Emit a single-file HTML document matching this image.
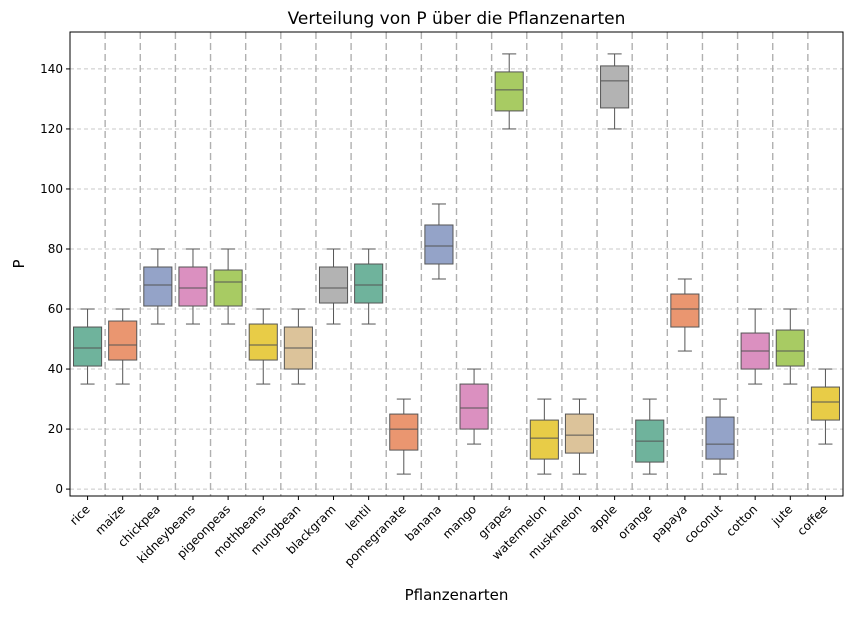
<!DOCTYPE html>
<html><head><meta charset="utf-8"><style>
body{margin:0;background:#fff;font-family:"Liberation Sans","DejaVu Sans",sans-serif}
</style></head><body>
<svg id="chart" width="854" height="614" xmlns="http://www.w3.org/2000/svg" style="font-family:'DejaVu Sans','Liberation Sans',sans-serif"></svg>
<script>
const categories=["rice","maize","chickpea","kidneybeans","pigeonpeas","mothbeans","mungbean","blackgram","lentil","pomegranate","banana","mango","grapes","watermelon","muskmelon","apple","orange","papaya","coconut","cotton","jute","coffee"];
const mins=[35,35,55,55,55,35,35,55,55,5,70,15,120,5,5,120,5,46,5,35,35,15];
const q1s=[41,43,61,61,61,43,40,62,62,13,75,20,126,10,12,127,9,54,10,40,41,23];
const medians=[47,48,68,67,69,48,47,67,68,20,81,27,133,17,18,136,16,60,15,46,46,29];
const q3s=[54,56,74,74,73,55,54,74,75,25,88,35,139,23,25,141,23,65,24,52,53,34];
const maxs=[60,60,80,80,80,60,60,80,80,30,95,40,145,30,30,145,30,70,30,60,60,40];
const yTicks=[0,20,40,60,80,100,120,140];
const palette=["#6fb39c","#ea9670","#94a3c8","#db90c0","#a8cb63","#e8cc47","#dcc39a","#b3b3b3"];
const L=70,R=843,T=32,B=496,yMin=-2.3,yMax=152.3;
const svg=document.getElementById('chart');const NS="http://www.w3.org/2000/svg";
const step=(R-L)/categories.length;
function x(i){return L+step*(i+0.5);}
function y(v){return B-(v-yMin)/(yMax-yMin)*(B-T);}
function el(t,a,txt){const e=document.createElementNS(NS,t);for(const k in a)e.setAttribute(k,a[k]);if(txt!=null)e.textContent=txt;svg.appendChild(e);return e;}
// horizontal grid
yTicks.forEach(v=>{
 const g=el('line',{x1:L,x2:R,y1:y(v),y2:y(v),stroke:"#c8c8c8","stroke-dasharray":"4,3","stroke-width":1});
 
 
 const tk=el('line',{x1:L-4,x2:L,y1:y(v),y2:y(v),stroke:"#000"});
 
 
 const t=el('text',{x:L-7,y:y(v)+4,"text-anchor":"end","font-size":12},v);
 
 
});
// vertical boundaries
for(let i=1;i<categories.length;i++){
 const g=el('line',{x1:L+step*i,x2:L+step*i,y1:T,y2:B,stroke:"#b0b0b0","stroke-dasharray":"7,4","stroke-width":1.4});
 
 
}
const bw=step*0.8;
categories.forEach((c,i)=>{
 const cx=x(i),col=palette[i%palette.length];
 const w=el('line',{x1:cx,x2:cx,y1:y(maxs[i]),y2:y(q3s[i]),stroke:"#555"});
 
 
 const w2=el('line',{x1:cx,x2:cx,y1:y(q1s[i]),y2:y(mins[i]),stroke:"#555"});
 
 
 [maxs[i],mins[i]].forEach(v=>{const cap=el('line',{x1:cx-bw/4,x2:cx+bw/4,y1:y(v),y2:y(v),stroke:"#555"});
 
 });
 const r=el('rect',{x:cx-bw/2,y:y(q3s[i]),width:bw,height:y(q1s[i])-y(q3s[i]),fill:col,stroke:"#555"});
 
 
 const m=el('line',{x1:cx-bw/2,x2:cx+bw/2,y1:y(medians[i]),y2:y(medians[i]),stroke:"#555"});
 
 
 const tk=el('line',{x1:cx,x2:cx,y1:B,y2:B+4,stroke:"#000"});
 
 
 const t=el('text',{x:cx+3,y:B+14,"text-anchor":"end","font-size":12,transform:`rotate(-45 ${cx+3} ${B+14})`},c);
 
 
});
const fr=el('rect',{x:L,y:T,width:R-L,height:B-T,fill:"none",stroke:"#000","stroke-width":1});


const ti=el('text',{x:(L+R)/2,y:24,"text-anchor":"middle","font-size":17},"Verteilung von P über die Pflanzenarten");


const xl=el('text',{x:(L+R)/2,y:600,"text-anchor":"middle","font-size":15},"Pflanzenarten");


const yl=el('text',{x:24,y:(T+B)/2,"text-anchor":"middle","font-size":15,transform:`rotate(-90 24 ${(T+B)/2})`},"P");


</script>
</body></html>
